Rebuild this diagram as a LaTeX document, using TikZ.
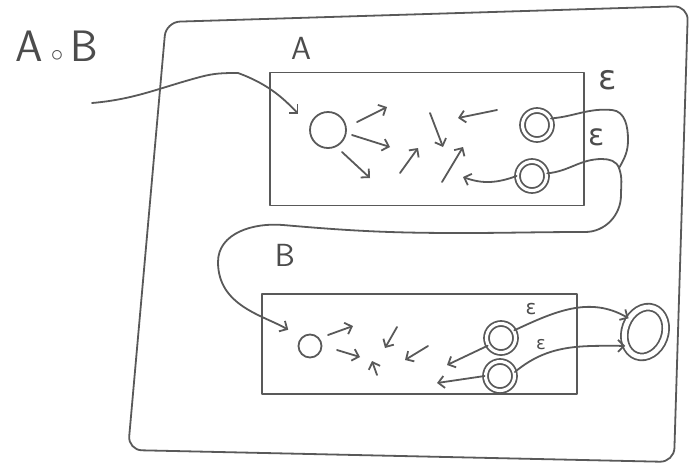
\documentclass[tikz,border=0pt]{standalone}
\usepackage{fontspec}
\newfontfamily\epsfont{DejaVu Sans}
\usetikzlibrary{positioning, arrows.meta, shapes.geometric}

\begin{document}
\begin{tikzpicture}[
    x=1pt, y=-1pt,
    pen/.style={
        draw=black!65,
        line width=1.8pt,
        line cap=round,
        line join=round,
    },
    arrow/.style={
        pen,
        -{Straight Barb[length=6pt, width=12pt]},
    },
    automaton/.style={
        pen,
        rectangle,
        inner sep=0pt,
    },
    initstate/.style={
        pen,
        circle,
        inner sep=0pt,
        minimum size=36pt,
    },
    accstate/.style={
        initstate,
        double=white,
        double distance=3.1pt,
        minimum size=29pt,
    },
    compname/.style={
        text=black!70,
        font=\fontsize{44}{44}\selectfont\sffamily,
    },
    boxname/.style={
        text=black!70,
        font=\fontsize{32}{32}\selectfont\sffamily,
    },
    epslabel/.style={
        text=black!70,
        font=\fontsize{#1}{#1}\selectfont\epsfont,
    },
]

    \useasboundingbox (0,0) rectangle (698,475);

    % composed automaton
    \draw[pen, rounded corners=14pt] (166,22) -- (688,6) -- (674,462) -- (128,450) -- cycle;
    \node[compname] (comp) at (57,46) {A\,{\fontsize{26}{26}\selectfont$\circ$}\,B};

    % automaton A
    \node[automaton, minimum width=314pt, minimum height=133pt] (boxA) at (427,139) {};
    \node[boxname] (labA) at (301,48) {A};
    \node[initstate] (ia) at (328,130) {};
    \node[accstate] (fa1) at (537,125) {};
    \node[accstate] (fa2) at (532,176) {};

    % automaton B
    \node[automaton, minimum width=315pt, minimum height=100pt] (boxB) at (419.5,344) {};
    \node[boxname] (labB) at (285,255) {B};
    \node[initstate, minimum size=23pt] (ib) at (310,346) {};
    \node[accstate] (fb1) at (501,338) {};
    \node[accstate] (fb2) at (500,376) {};
    \node[accstate, ellipse, minimum width=40pt, minimum height=51pt,
          double distance=4.9pt, rotate=-20] (fin) at (645,332) {};

    % some transitions inside A
    \foreach \xa/\ya/\xb/\yb in {357/122/387/107, 352/135/390/147, 342/152/370/178,
                                 400/173/418/148, 430/113/443/147, 442/182/463/147,
                                 497/110/458/118}
        \draw[arrow] (\xa,\ya) -- (\xb,\yb);
    \draw[arrow] (fa2.west) to[out=200, in=-20] (463,177);

    % some transitions inside B
    \foreach \xa/\ya/\xb/\yb in {328/335/353/326, 337/350/360/357, 397/327/385/348,
                                 428/346/405/360, 377/375/372/361}
        \draw[arrow] (\xa,\ya) -- (\xb,\yb);
    \draw[arrow] (fb1.210) -- (447,365);
    \draw[arrow] (fb2.west) -- (437,383);

    % start of A
    \coordinate (entry) at (92,103);
    \draw[arrow, shorten >=16pt] (entry) to[out=5, in=195] (200,77)
        to[out=15, in=180] (238,73) to[out=-20, in=135] (ia.165);

    % epsilon from the final states of A to the start of B
    \coordinate (join) at (619,168);
    \draw[pen] (fa1.25) to[out=5, in=175] (612,110) to[out=-5, in=90] (628,140)
        to[out=-90, in=60] (join);
    \draw[arrow, shorten >=15pt] (fa2.10) to[out=5, in=180] (602,159)
        to[out=0, in=110] (join) to[out=-70, in=90] (621,195)
        to[out=-90, in=0] (585,232) to[out=180, in=0] (460,233)
        to[out=180, in=-5] (283,225) to[out=175, in=90] (218,262)
        to[out=-90, in=150] (ib.135);
    \node[epslabel=34] (epsA1) at (608,80) {ε};
    \node[epslabel=30] (epsA2) at (597,137) {ε};

    % epsilon from the final states of B to the new final state
    \draw[arrow] (fb1.30) to[out=25, in=150] (fin.160);
    \draw[arrow] (fb2.15) to[out=40, in=180] (fin.235);
    \node[epslabel=20] (epsB1) at (531,309) {ε};
    \node[epslabel=18] (epsB2) at (541,345) {ε};

\end{tikzpicture}
\end{document}
